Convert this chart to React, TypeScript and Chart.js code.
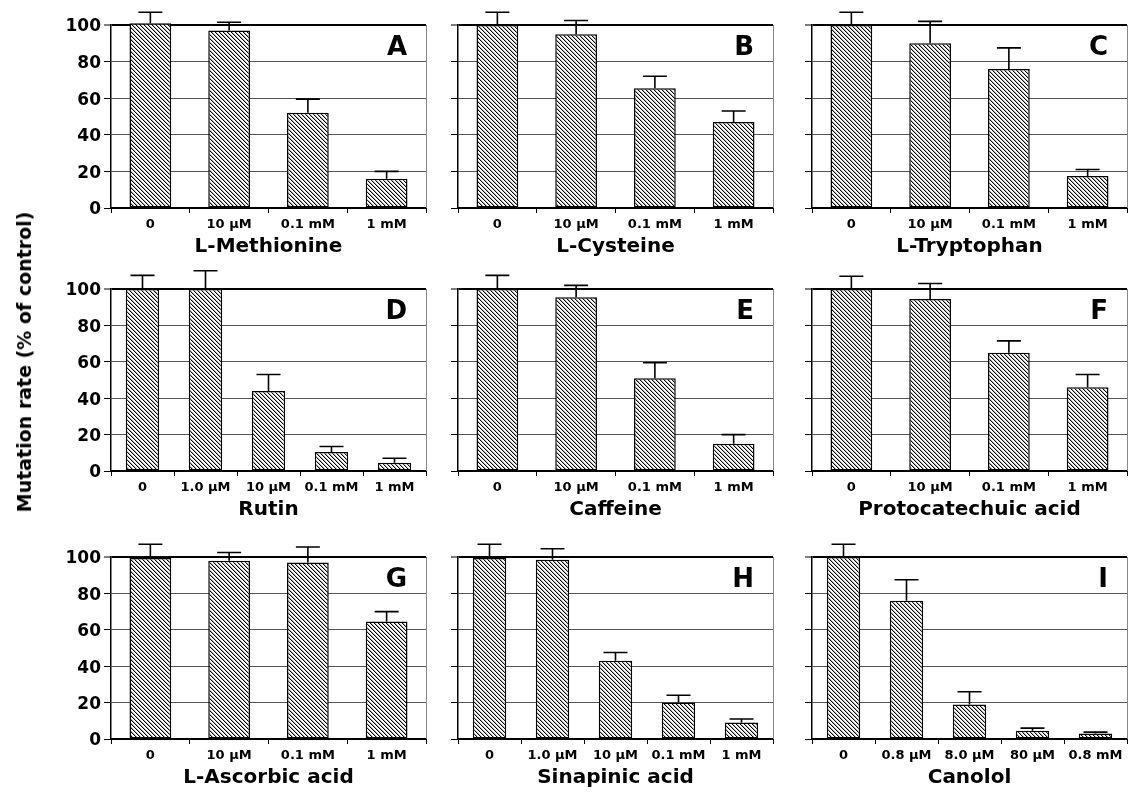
import React, { useEffect, useRef } from "react";
import { Chart, registerables } from "chart.js";

Chart.register(...registerables);

// ---------- data ----------
const yTickValues = [0, 20, 40, 60, 80, 100];
const yAxisTitle = "Mutation rate (% of control)";

const catsA = ["0", "10 µM", "0.1 mM", "1 mM"];
const valsA = [101, 97, 52, 16];
const errsA = [6, 4.5, 7.5, 4];

const catsB = ["0", "10 µM", "0.1 mM", "1 mM"];
const valsB = [100, 95, 65.5, 47];
const errsB = [7, 7.5, 6.5, 6];

const catsC = ["0", "10 µM", "0.1 mM", "1 mM"];
const valsC = [100, 90, 76, 17.5];
const errsC = [7, 12, 11.5, 3.5];

const catsD = ["0", "1.0 µM", "10 µM", "0.1 mM", "1 mM"];
const valsD = [100, 100, 44, 10.5, 4.5];
const errsD = [7.5, 10, 9, 3, 2.5];

const catsE = ["0", "10 µM", "0.1 mM", "1 mM"];
const valsE = [100, 95.5, 51, 15];
const errsE = [7.5, 6.5, 8.5, 5];

const catsF = ["0", "10 µM", "0.1 mM", "1 mM"];
const valsF = [100, 94.5, 65, 46];
const errsF = [7, 8.5, 6.5, 7];

const catsG = ["0", "10 µM", "0.1 mM", "1 mM"];
const valsG = [99.5, 98, 97, 64.5];
const errsG = [7.5, 4.5, 8.5, 5.5];

const catsH = ["0", "1.0 µM", "10 µM", "0.1 mM", "1 mM"];
const valsH = [99.5, 98.5, 43, 20, 9];
const errsH = [7.5, 6, 4.5, 4, 2];

const catsI = ["0", "0.8 µM", "8.0 µM", "80 µM", "0.8 mM"];
const valsI = [100, 76, 19, 4.5, 3];
const errsI = [7, 11.5, 7, 1.5, 0.8];

const panelTitles = [
  "L-Methionine", "L-Cysteine", "L-Tryptophan",
  "Rutin", "Caffeine", "Protocatechuic acid",
  "L-Ascorbic acid", "Sinapinic acid", "Canolol",
];
const panelLetters = ["A", "B", "C", "D", "E", "F", "G", "H", "I"];

const panelData = [
  { cats: catsA, vals: valsA, errs: errsA },
  { cats: catsB, vals: valsB, errs: errsB },
  { cats: catsC, vals: valsC, errs: errsC },
  { cats: catsD, vals: valsD, errs: errsD },
  { cats: catsE, vals: valsE, errs: errsE },
  { cats: catsF, vals: valsF, errs: errsF },
  { cats: catsG, vals: valsG, errs: errsG },
  { cats: catsH, vals: valsH, errs: errsH },
  { cats: catsI, vals: valsI, errs: errsI },
];

// ---------- layout ----------
const FONT = "'DejaVu Sans', 'Liberation Sans', Arial, sans-serif";
const colLeft = [111, 458, 812];
const rowTop = [25, 289, 557];
const plotW = 315;
const plotH = [183, 182, 182];
const padTop = 25;
const padRight = 3;
const xAxisH = 49;

function makeHatch(): CanvasPattern | string {
  const c = document.createElement("canvas");
  c.width = 4;
  c.height = 4;
  const g = c.getContext("2d");
  if (!g) return "#999";
  g.fillStyle = "#fff";
  g.fillRect(0, 0, 4, 4);
  for (let i = 0; i < 4; i++) {
    g.fillStyle = "#000";
    g.fillRect(i, i, 1, 1);
    g.fillStyle = "#b0b0b0";
    g.fillRect((i + 1) % 4, i, 1, 1);
  }
  return g.createPattern(c, "repeat") || "#999";
}

const errorBarPlugin = {
  id: "errorBars",
  afterDatasetsDraw(chart: any) {
    const ctx = chart.ctx;
    const meta = chart.getDatasetMeta(0);
    const ds: any = chart.data.datasets[0];
    const ys = chart.scales.y;
    ctx.save();
    ctx.strokeStyle = "#000";
    ctx.lineWidth = 1.6;
    meta.data.forEach((bar: any, i: number) => {
      const v = ds.data[i];
      const e = ds.errs[i];
      const yTop = ys.getPixelForValue(v + e);
      ctx.beginPath();
      ctx.moveTo(bar.x, bar.y);
      ctx.lineTo(bar.x, yTop);
      ctx.moveTo(bar.x - 12, yTop);
      ctx.lineTo(bar.x + 12, yTop);
      ctx.stroke();
    });
    ctx.restore();
  },
};

const framePlugin = {
  id: "frameLetter",
  afterDraw(chart: any) {
    const ctx = chart.ctx;
    const a = chart.chartArea;
    const letter = chart.options.plugins.frameLetter.letter;
    ctx.save();
    ctx.strokeStyle = "#888";
    ctx.lineWidth = 1;
    ctx.beginPath();
    ctx.moveTo(a.right + 0.5, a.top);
    ctx.lineTo(a.right + 0.5, a.bottom);
    ctx.stroke();
    ctx.fillStyle = "#000";
    ctx.font = `bold 26px ${FONT}`;
    ctx.textAlign = "right";
    ctx.textBaseline = "middle";
    ctx.fillText(letter, a.right - 19, a.top + 23);
    ctx.restore();
  },
};

function Panel({ idx }: { idx: number }) {
  const ref = useRef<HTMLCanvasElement>(null);
  const col = idx % 3;
  const row = Math.floor(idx / 3);
  const leftW = col === 0 ? 100 : 30;
  const cw = leftW + plotW + padRight;
  const ch = padTop + plotH[row] + xAxisH;
  const left = colLeft[col] - leftW;
  const top = rowTop[row] - padTop;

  useEffect(() => {
    const d = panelData[idx];
    const hatch = makeHatch();
    const chart = new Chart(ref.current as HTMLCanvasElement, {
      type: "bar",
      data: {
        labels: d.cats,
        datasets: [
          {
            data: d.vals,
            errs: d.errs,
            backgroundColor: hatch,
            borderColor: "#000",
            borderWidth: 1.5,
            borderSkipped: false,
            barPercentage: 0.53,
            categoryPercentage: 1,
            clip: false,
          } as any,
        ],
      },
      options: {
        animation: false,
        responsive: false,
        maintainAspectRatio: false,
        layout: { padding: { top: padTop, right: padRight, left: 0, bottom: 0 } },
        plugins: {
          legend: { display: false },
          tooltip: { enabled: false },
          frameLetter: { letter: panelLetters[idx] },
        } as any,
        scales: {
          x: {
            type: "category",
            offset: true,
            grid: {
              offset: true,
              drawOnChartArea: false,
              drawTicks: true,
              tickLength: 5,
              color: "#000",
              lineWidth: 1,
            },
            border: { display: true, color: "#000", width: 2 },
            ticks: {
              color: "#000",
              font: { family: FONT, size: 13, weight: "bold", lineHeight: 1 },
              padding: 5,
              maxRotation: 0,
              minRotation: 0,
              autoSkip: false,
            },
            title: {
              display: true,
              text: panelTitles[idx],
              color: "#000",
              font: { family: FONT, size: 20, weight: "bold", lineHeight: 1 },
              padding: 0,
            },
            afterFit: (s: any) => {
              s.height = xAxisH;
            },
          },
          y: {
            type: "linear",
            min: 0,
            max: 100,
            afterBuildTicks: (s: any) => {
              s.ticks = yTickValues.map((v) => ({ value: v }));
            },
            grid: {
              color: (c: any) => (c.tick && c.tick.value === 100 ? "#000" : "#555"),
              lineWidth: (c: any) => (c.tick && c.tick.value === 100 ? 2 : 1),
              tickColor: "#000",
              tickWidth: 1,
              tickLength: 7,
              drawTicks: true,
            },
            border: { display: true, color: "#000", width: 1.5 },
            ticks: {
              display: col === 0,
              color: "#000",
              padding: 3,
              labelOffset: 2,
              font: { family: FONT, size: 17, weight: "bold" },
            },
            afterFit: (s: any) => {
              s.width = leftW;
            },
          },
        },
      },
      plugins: [errorBarPlugin, framePlugin],
    } as any);
    return () => chart.destroy();
  }, [idx]);

  return (
    <canvas
      ref={ref}
      width={cw}
      height={ch}
      style={{ position: "absolute", left, top, width: cw, height: ch }}
    />
  );
}

export default function App() {
  return (
    <div
      style={{
        position: "absolute",
        left: 0,
        top: 0,
        width: 1129,
        height: 796,
        background: "#fff",
        overflow: "hidden",
      }}
    >
      {panelData.map((_, i) => (
        <Panel key={i} idx={i} />
      ))}
      <div
        style={{
          position: "absolute",
          left: 24,
          top: 362,
          transform: "translate(-50%, -50%) rotate(-90deg)",
          whiteSpace: "nowrap",
          fontFamily: FONT,
          fontWeight: "bold",
          fontSize: 19,
          color: "#000",
        }}
      >
        {yAxisTitle}
      </div>
    </div>
  );
}
